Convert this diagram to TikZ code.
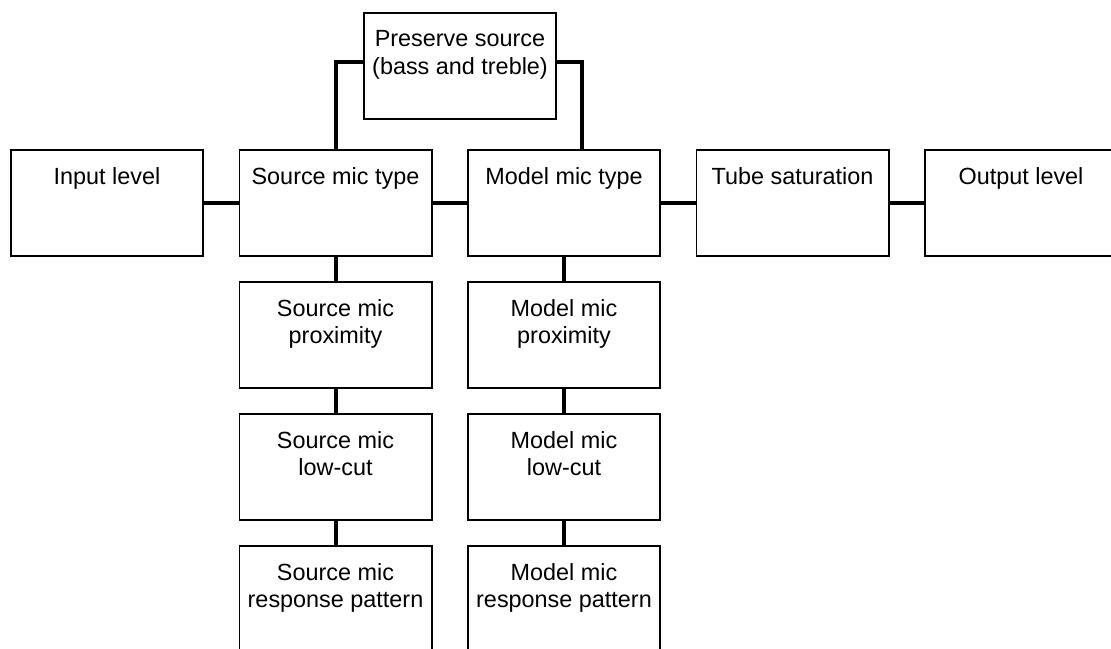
\documentclass[tikz,border=0pt]{standalone}
\usepackage{fontspec}
\setmainfont{Liberation Sans}
\usepackage{tikz}
\usetikzlibrary{positioning}
\tikzset{
	block/.style={
		rectangle,
		draw=black,
		line width=0.8pt,
		align=center,
		anchor=north,
		inner ysep=0pt,
		minimum width=96.2pt,
		minimum height=53.2pt,
		text height=17.1pt,
		text depth=36.1pt,
		font=\fontsize{11.7}{13.75}\selectfont
	},
	twoline/.style={
		text height=30.85pt,
		text depth=22.35pt
	},
	wire/.style={line width=2pt}
}
\begin{document}
\begin{tikzpicture}[x=0.5pt,y=-0.5pt,node distance=12pt and 17.25pt]
		\useasboundingbox (0,0) rectangle (1111,648);
		\clip (0,0) rectangle (1111,648);
		% main chain
		\node[block,anchor=north west] (input) at (10,149) {Input level};
		\node[block,right=of input] (srctype) {Source mic type};
		\node[block,right=of srctype] (modtype) {Model mic type};
		\node[block,right=of modtype] (tube) {Tube saturation};
		\node[block,right=of tube] (output) {Output level};
		\node[block,twoline,anchor=north west] (preserve) at (363,12) {Preserve source\\(bass and treble)};

		% source column
		\node[block,twoline,below=of srctype] (srcprox) {Source mic\\proximity};
		\node[block,twoline,below=of srcprox] (srccut) {Source mic\\low-cut};
		\node[block,twoline,below=of srccut] (srcpat) {Source mic\\response pattern};

		% model column
		\node[block,twoline,below=of modtype] (modprox) {Model mic\\proximity};
		\node[block,twoline,below=of modprox] (modcut) {Model mic\\low-cut};
		\node[block,twoline,below=of modcut] (modpat) {Model mic\\response pattern};

		\draw[wire] (input) -- (srctype);
		\draw[wire] (srctype) -- (modtype);
		\draw[wire] (modtype) -- (tube);
		\draw[wire] (tube) -- (output);
		\draw[wire] ([yshift=2pt]preserve.west) -| (srctype.north);
		\draw[wire] ([yshift=2pt]preserve.east) -| ([xshift=9pt]modtype.north);
		\draw[wire] (srctype) -- (srcprox);
		\draw[wire] (srcprox) -- (srccut);
		\draw[wire] (srccut) -- (srcpat);
		\draw[wire] (modtype) -- (modprox);
		\draw[wire] (modprox) -- (modcut);
		\draw[wire] (modcut) -- (modpat);
	\end{tikzpicture}
\end{document}
